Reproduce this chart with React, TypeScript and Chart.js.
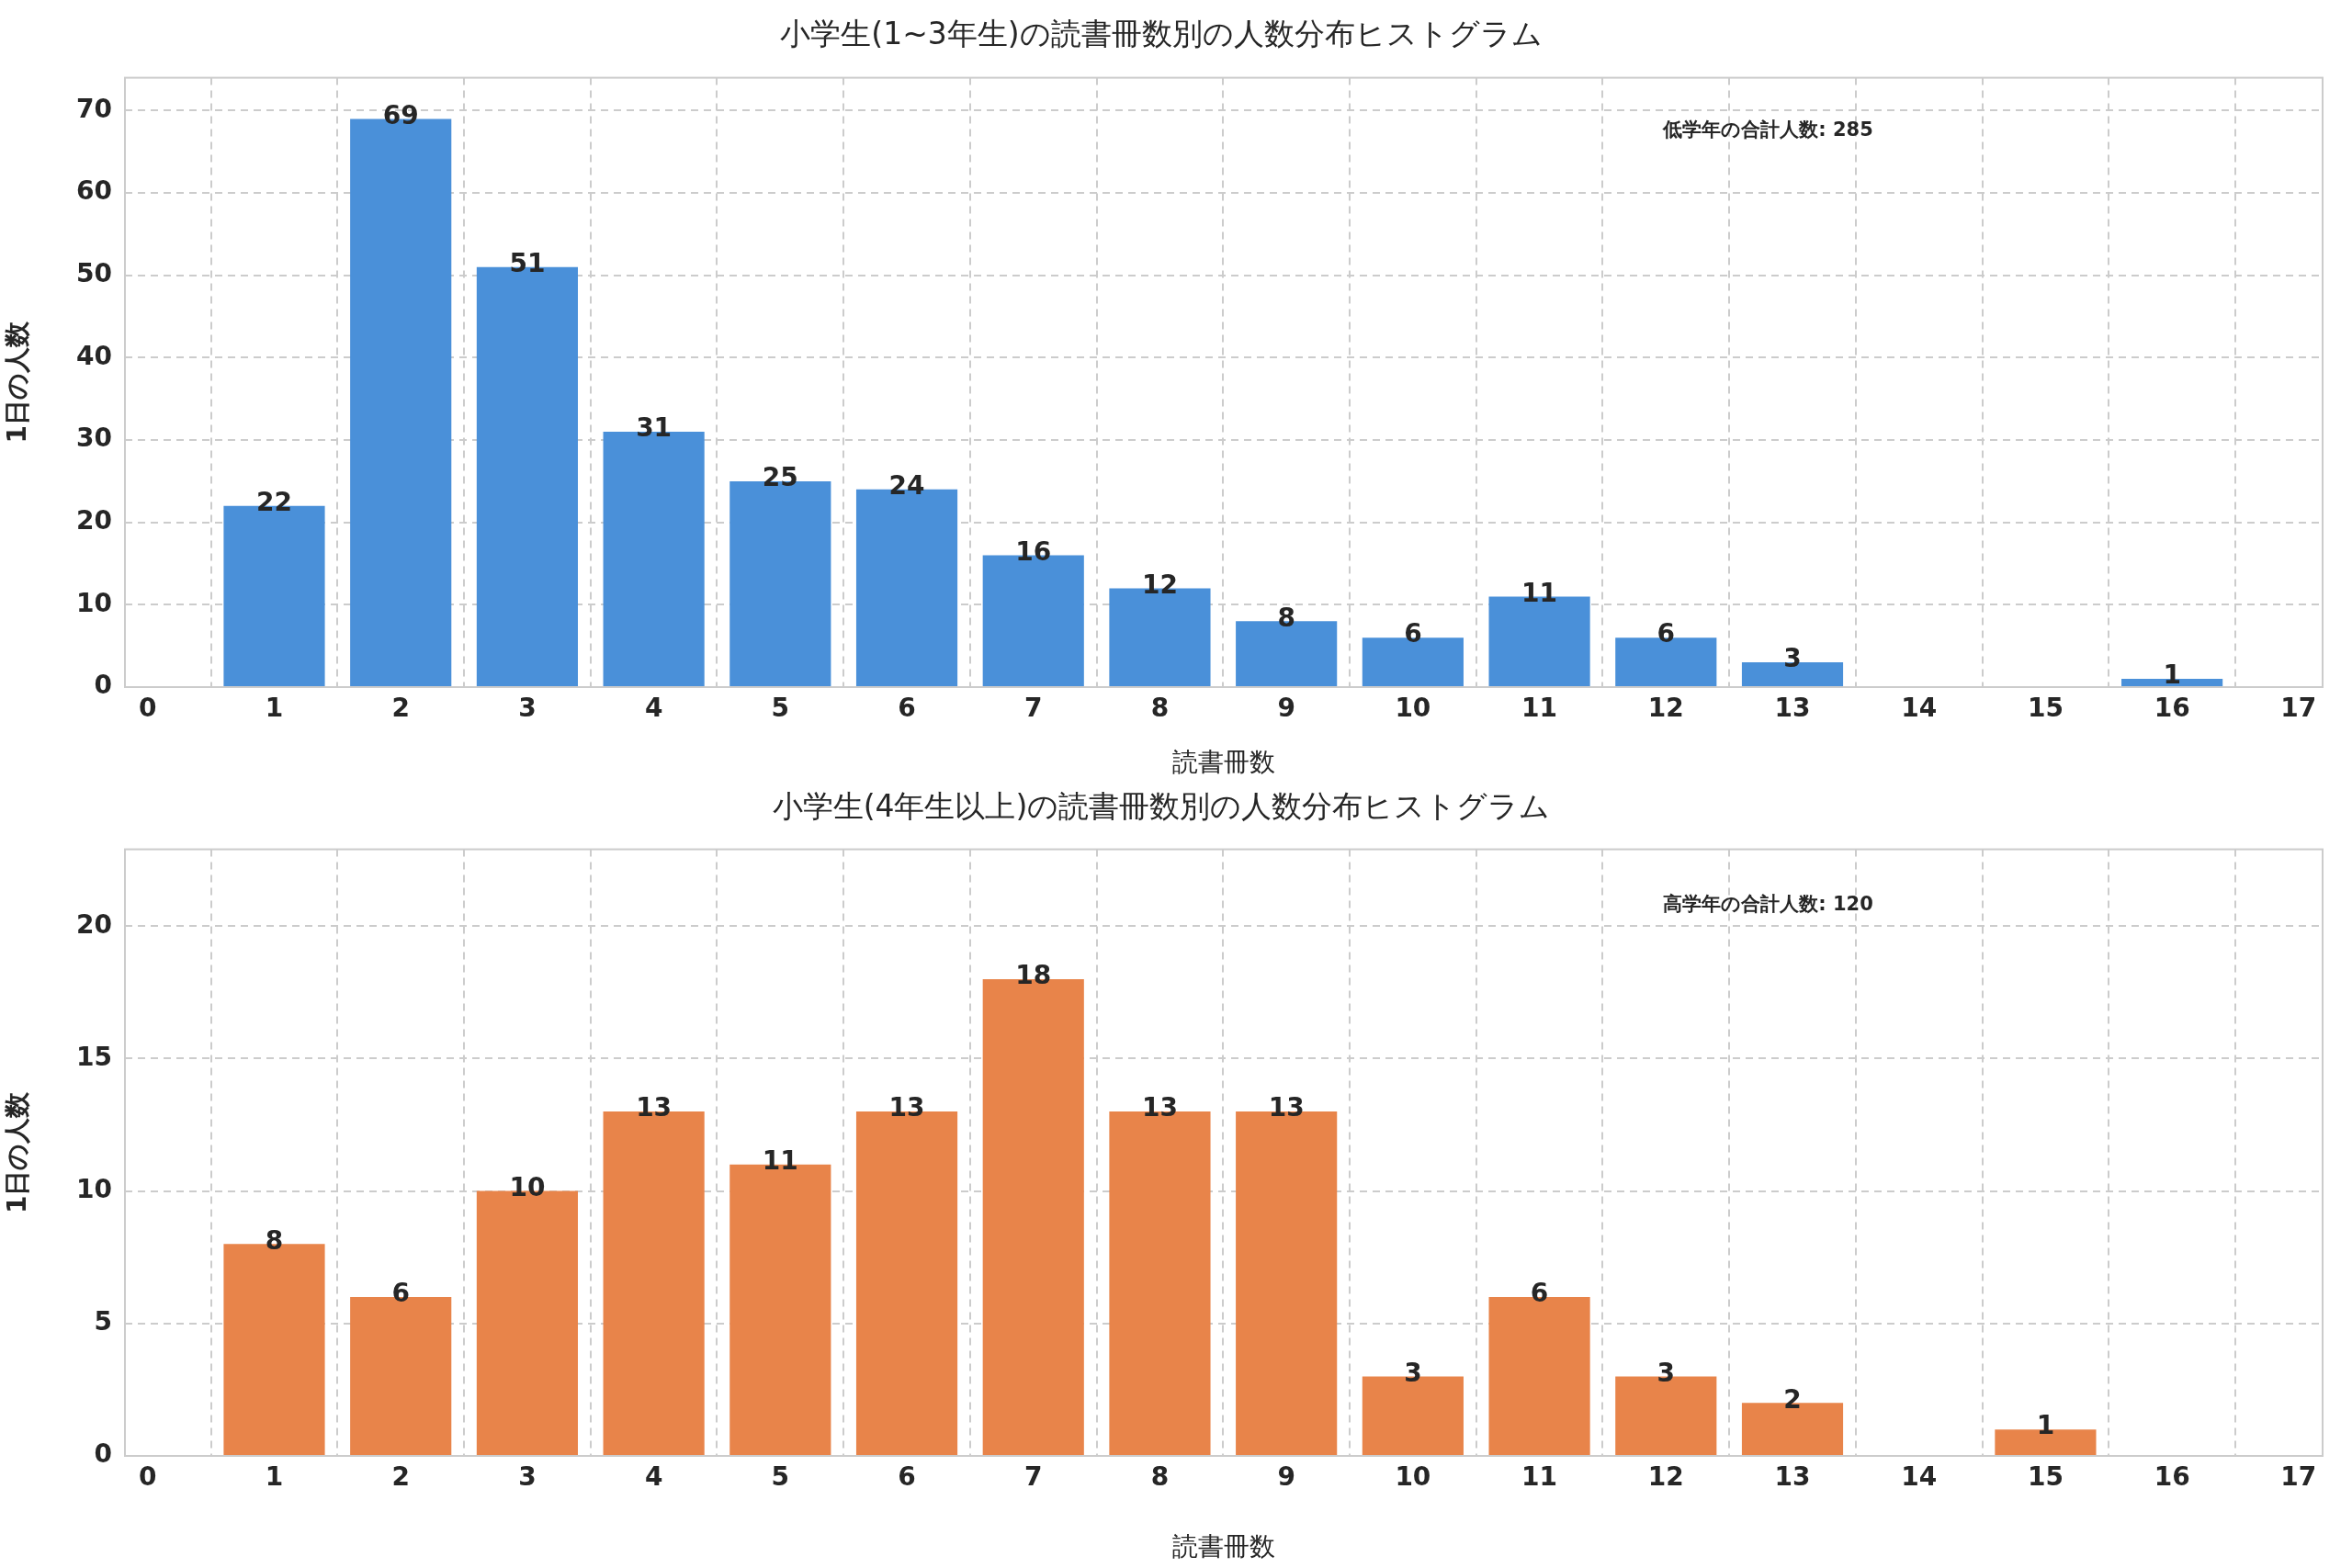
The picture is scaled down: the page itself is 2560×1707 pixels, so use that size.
import React, { useEffect, useRef } from "react";
import { Chart, registerables } from "chart.js";
Chart.register(...registerables);

const books = [1, 2, 3, 4, 5, 6, 7, 8, 9, 10, 11, 12, 13, 14, 15, 16];
const lowerCounts = [22, 69, 51, 31, 25, 24, 16, 12, 8, 6, 11, 6, 3, 0, 0, 1];
const upperCounts = [8, 6, 10, 13, 11, 13, 18, 13, 13, 3, 6, 3, 2, 0, 1, 0];
const lowerTitle = "小学生(1~3年生)の読書冊数別の人数分布ヒストグラム";
const upperTitle = "小学生(4年生以上)の読書冊数別の人数分布ヒストグラム";
const lowerTotal = "低学年の合計人数: 285";
const upperTotal = "高学年の合計人数: 120";
const xTitle = "読書冊数";
const yTitle = "1日の人数";

const FONT = "'DejaVu Sans', sans-serif";

function makeConfig(values: number[], color: string, title: string, note: string, yMax: number, yStep: number, noteY: number, titlePad: any, xH: number): any {
  const labelPlugin = {
    id: "labels",
    afterDatasetsDraw(chart: any) {
      const ctx = chart.ctx;
      const meta = chart.getDatasetMeta(0);
      ctx.save();
      ctx.fillStyle = "#262626";
      ctx.font = `bold 28px ${FONT}`;
      ctx.textAlign = "center";
      ctx.textBaseline = "bottom";
      meta.data.forEach((bar: any, i: number) => {
        const v = values[i];
        if (v > 0) ctx.fillText(String(v), bar.x, bar.y + 12);
      });
      ctx.font = `bold 21px ${FONT}`;
      ctx.textAlign = "left";
      ctx.textBaseline = "middle";
      ctx.fillText(note, chart.scales.x.getPixelForValue(12) - 3, chart.scales.y.getPixelForValue(noteY));
      const a = chart.chartArea;
      ctx.strokeStyle = "#cccccc";
      ctx.lineWidth = 2;
      ctx.strokeRect(a.left, a.top, a.right - a.left, a.bottom - a.top);
      ctx.restore();
    },
  };
  return {
    type: "bar",
    data: {
      datasets: [{
        data: books.map((b, i) => ({ x: b, y: values[i] })),
        backgroundColor: color,
        categoryPercentage: 1,
        barPercentage: 0.8,
      }],
    },
    plugins: [labelPlugin],
    options: {
      animation: false,
      responsive: false,
      devicePixelRatio: 1,
      layout: { padding: { left: 0, right: 32, top: 0, bottom: 0 } },
      plugins: {
        legend: { display: false },
        tooltip: { enabled: false },
        title: { display: true, text: title, color: "#262626", font: { family: FONT, size: 33, weight: "normal" }, padding: titlePad },
      },
      scales: {
        x: {
          type: "linear", min: -0.18, max: 17.19, offset: false,
          afterBuildTicks(s: any) { s.ticks = Array.from({ length: 18 }, (_, i) => ({ value: i })); },
          afterFit(s: any) { s.height = xH; },
          ticks: { color: "#262626", font: { family: FONT, size: 28, weight: "bold" }, padding: 8, autoSkip: false, maxRotation: 0 },
          grid: { color: "#cccccc", lineWidth: 2, tickLength: 0 },
          border: { display: false, dash: [8, 6] },
          title: { display: true, text: xTitle, color: "#262626", font: { family: FONT, size: 28 }, padding: { top: 4 } },
        },
        y: {
          min: 0, max: yMax,
          afterBuildTicks(s: any) { const t = []; for (let v = 0; v <= yMax; v += yStep) t.push({ value: v }); s.ticks = t; },
          afterFit(s: any) { s.width = 136; },
          ticks: { color: "#262626", font: { family: FONT, size: 28, weight: "bold" }, padding: 14 },
          grid: { color: "#cccccc", lineWidth: 2, tickLength: 0 },
          border: { display: false, dash: [8, 6] },
          title: { display: true, text: yTitle, color: "#262626", font: { family: FONT, size: 28, weight: "bold" }, padding: { bottom: 4 } },
        },
      },
    },
  };
}

function Panel(props: { cfg: any; h: number }) {
  const ref = useRef<HTMLCanvasElement>(null);
  useEffect(() => {
    const c = new Chart(ref.current as HTMLCanvasElement, props.cfg);
    return () => c.destroy();
  }, []);
  return <canvas ref={ref} width={2560} height={props.h} style={{ display: "block", width: 2560, height: props.h }} />;
}

export default function App() {
  const c1 = makeConfig(lowerCounts, "#4a90d9", lowerTitle, lowerTotal, 74, 10, 67.5, { top: 20, bottom: 25 }, 105);
  const c2 = makeConfig(upperCounts, "#e8844a", upperTitle, upperTotal, 22.9, 5, 20.8, { top: 8, bottom: 24 }, 122);
  return (
    <div style={{ position: "absolute", left: 0, top: 0, width: 2560, height: 1707, background: "#fff" }}>
      <Panel cfg={c1} h={853} />
      <Panel cfg={c2} h={854} />
    </div>
  );
}
